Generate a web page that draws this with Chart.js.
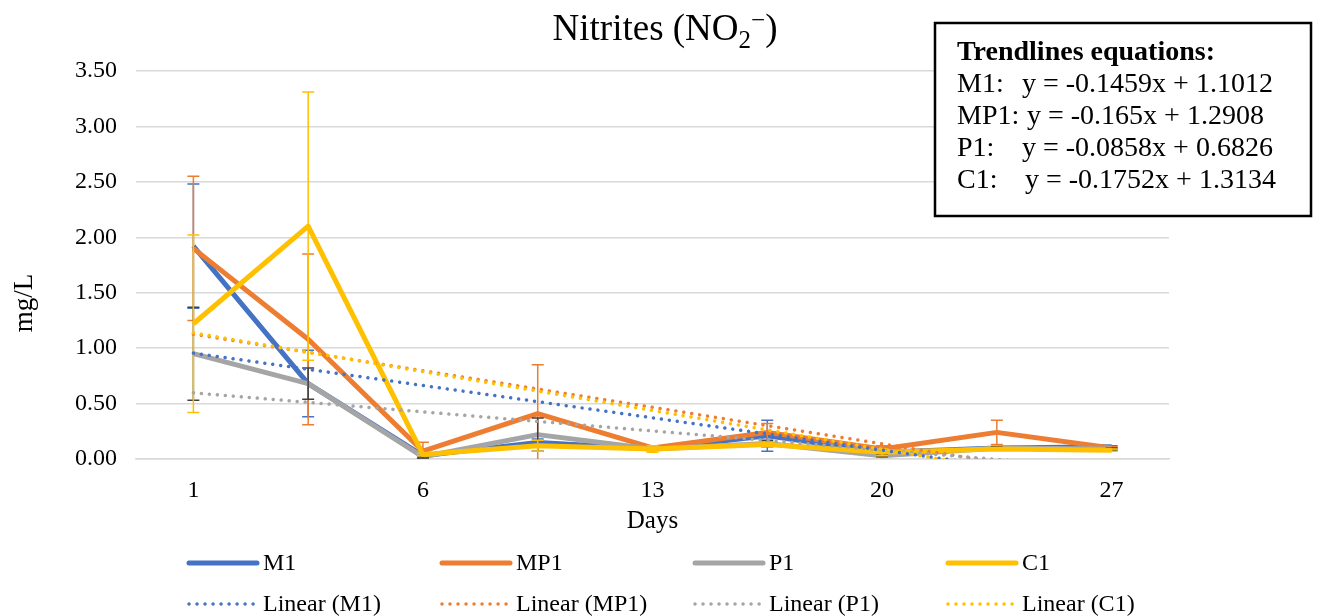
<!DOCTYPE html>
<html>
<head>
<meta charset="utf-8">
<script src="https://cdn.jsdelivr.net/npm/chart.js@4.4.1/dist/chart.umd.min.js"></script>
<style>
body { margin: 0; background: #fff; }
#wrap { width: 1317px; height: 616px; position: relative; }
</style>
</head>
<body>
<div id="wrap"><canvas id="chart"></canvas></div>
<script>
// sampling days (only every other one gets a label, like the original)
const days = ['1', '3', '6', '9', '13', '16', '20', '23', '27'];

// mean values, mg/L
const m1  = [1.92, 0.68, 0.03, 0.15, 0.09, 0.21, 0.06, 0.10, 0.11];
const mp1 = [1.90, 1.08, 0.07, 0.41, 0.10, 0.24, 0.09, 0.24, 0.10];
const p1  = [0.95, 0.68, 0.02, 0.22, 0.09, 0.14, 0.03, 0.10, 0.09];
const c1  = [1.22, 2.10, 0.04, 0.12, 0.09, 0.13, 0.06, 0.09, 0.08];

// error bars (+/-)
const m1Err  = [0.56, 0.30, 0.02, 0.03, 0.01, 0.14, 0.02, 0.01, 0.01];
const mp1Err = [0.65, 0.77, 0.08, 0.44, 0.02, 0.08, 0.03, 0.11, 0.01];
const p1Err  = [0.42, 0.14, 0.01, 0.15, 0.01, 0.03, 0.01, 0.01, 0.01];
const c1Err  = [0.80, 1.21, 0.01, 0.05, 0.03, 0.02, 0.03, 0.01, 0.01];

// linear trendlines, value at first and last day (straight line in between)
const trendM1  = [0.955, null, null, null, null, null, null, null, -0.212];
const trendMP1 = [1.126, null, null, null, null, null, null, null, -0.194];
const trendP1  = [0.597, null, null, null, null, null, null, null, -0.090];
const trendC1  = [1.138, null, null, null, null, null, null, null, -0.263];

const seriesNames = ['M1', 'MP1', 'P1', 'C1'];
const seriesColors = ['#4472C4', '#ED7D31', '#A5A5A5', '#FFC000'];
const errColors = ['#4472C4', '#ED7D31', '#404040', '#FFC000'];

const eqLabels = ['M1:', 'MP1:', 'P1:', 'C1:'];
const eqTexts = ['y = -0.1459x + 1.1012', 'y = -0.165x + 1.2908', 'y = -0.0858x + 0.6826', 'y = -0.1752x + 1.3134'];

const FONT = '"Liberation Serif", "Times New Roman", serif';

const means = [m1, mp1, p1, c1];
const errs = [m1Err, mp1Err, p1Err, c1Err];
const trends = [trendM1, trendMP1, trendP1, trendC1];

const datasets = [];
for (let i = 0; i < 4; i++) {
	datasets.push({
		label: seriesNames[i],
		data: means[i],
		borderColor: seriesColors[i],
		borderWidth: 5,
		borderJoinStyle: 'round',
		pointRadius: 0,
		tension: 0,
		errors: errs[i],
		errorColor: errColors[i],
		order: 7 - i
	});
}
for (let i = 0; i < 4; i++) {
	datasets.push({
		label: 'Linear (' + seriesNames[i] + ')',
		data: trends[i],
		borderColor: seriesColors[i],
		borderWidth: 3.5,
		borderDash: [0.01, 8],
		borderCapStyle: 'round',
		pointRadius: 0,
		spanGaps: true,
		order: 3 - i
	});
}

// error bars drawn right after their own series
const errorBars = {
	id: 'errorBars',
	afterDatasetDraw(chart, args) {
		const ds = chart.data.datasets[args.index];
		if (!ds.errors) return;
		const ctx = chart.ctx, y = chart.scales.y, area = chart.chartArea;
		ctx.save();
		ctx.beginPath();
		ctx.rect(area.left, area.top - 2, area.right - area.left, area.bottom - area.top + 2);
		ctx.clip();
		ctx.strokeStyle = ds.errorColor;
		ctx.lineWidth = 1.5;
		args.meta.data.forEach(function (pt, i) {
			const v = ds.data[i], e = ds.errors[i];
			const top = y.getPixelForValue(v + e);
			const bot = y.getPixelForValue(v - e);
			ctx.beginPath();
			ctx.moveTo(pt.x, top); ctx.lineTo(pt.x, bot);
			ctx.moveTo(pt.x - 6, top); ctx.lineTo(pt.x + 6, top);
			ctx.moveTo(pt.x - 6, bot); ctx.lineTo(pt.x + 6, bot);
			ctx.stroke();
		});
		ctx.restore();
	}
};

// title, axis titles, legend, equations box
const decor = {
	id: 'decor',
	afterDraw(chart) {
		const ctx = chart.ctx;
		ctx.save();
		ctx.fillStyle = '#000';
		ctx.textBaseline = 'alphabetic';

		// title Nitrites (NO2-)
		const big = '37px ' + FONT, small = '25px ' + FONT;
		ctx.font = big;
		const wMain = ctx.measureText('Nitrites (NO').width;
		const wClose = ctx.measureText(')').width;
		ctx.font = small;
		const wSub = ctx.measureText('2').width;
		const wSup = ctx.measureText('\u2212').width;
		let tx = 665 - (wMain + wSub + wSup + wClose) / 2;
		ctx.textAlign = 'left';
		ctx.font = big;
		ctx.fillText('Nitrites (NO', tx, 40);
		tx += wMain;
		ctx.font = small;
		ctx.fillText('2', tx, 48);
		tx += wSub;
		ctx.fillText('\u2212', tx, 28);
		tx += wSup;
		ctx.font = big;
		ctx.fillText(')', tx, 40);

		// axis titles
		ctx.font = '25px ' + FONT;
		ctx.textAlign = 'center';
		ctx.fillText('Days', (chart.chartArea.left + chart.chartArea.right) / 2, 528);
		ctx.save();
		ctx.font = '27px ' + FONT;
		ctx.translate(32, 303);
		ctx.rotate(-Math.PI / 2);
		ctx.fillText('mg/L', 0, 0);
		ctx.restore();

		// legend, 4 columns x 2 rows
		ctx.font = '24px ' + FONT;
		ctx.textAlign = 'left';
		ctx.textBaseline = 'middle';
		chart.data.datasets.forEach(function (ds, i) {
			const col = i % 4, row = Math.floor(i / 4);
			const x = 187 + col * 253, yy = 563 + row * 41;
			ctx.save();
			ctx.strokeStyle = ds.borderColor;
			ctx.lineWidth = ds.borderWidth;
			ctx.lineCap = 'round';
			if (ds.borderDash) ctx.setLineDash(ds.borderDash);
			ctx.beginPath();
			ctx.moveTo(x + 2, yy); ctx.lineTo(x + 70, yy);
			ctx.stroke();
			ctx.restore();
			ctx.fillText(ds.label, x + 76, yy + 1);
		});

		// equations box
		ctx.fillStyle = '#fff';
		ctx.fillRect(935, 23, 376, 193);
		ctx.strokeStyle = '#000';
		ctx.lineWidth = 2.5;
		ctx.strokeRect(935, 23, 376, 193);
		ctx.fillStyle = '#000';
		ctx.textBaseline = 'alphabetic';
		ctx.font = 'bold 28px ' + FONT;
		ctx.fillText('Trendlines equations:', 957, 60);
		ctx.font = '28px ' + FONT;
		const eqX = [1022, 1027, 1022, 1025];
		for (let i = 0; i < 4; i++) {
			ctx.fillText(eqLabels[i], 957, 92 + i * 32);
			ctx.fillText(eqTexts[i], eqX[i], 92 + i * 32);
		}
		ctx.restore();
	}
};

new Chart(document.getElementById('chart'), {
	type: 'line',
	data: { labels: days, datasets: datasets },
	options: {
		responsive: true,
		maintainAspectRatio: false,
		animation: false,
		layout: { padding: { left: 0, right: 148, top: 71, bottom: 117 } },
		plugins: {
			legend: { display: false },
			title: { display: false },
			tooltip: { enabled: false }
		},
		scales: {
			x: {
				offset: true,
				grid: { display: false, drawTicks: false },
				border: { color: '#D9D9D9', width: 1.5 },
				ticks: {
					autoSkip: false,
					maxRotation: 0,
					padding: 17,
					color: '#000',
					font: { family: FONT, size: 24 },
					callback: function (v, i) { return i % 2 === 0 ? this.getLabelForValue(v) : ''; }
				},
				afterFit: function (s) { s.height = 40; }
			},
			y: {
				min: 0,
				max: 3.5,
				grid: { color: '#D9D9D9', lineWidth: 1.5, drawTicks: false },
				border: { display: false },
				ticks: {
					stepSize: 0.5,
					padding: 19,
					color: '#000',
					font: { family: FONT, size: 24 },
					callback: function (v) { return v.toFixed(2); }
				},
				afterFit: function (s) { s.width = 136; }
			}
		}
	},
	plugins: [errorBars, decor]
});
</script>
</body>
</html>
